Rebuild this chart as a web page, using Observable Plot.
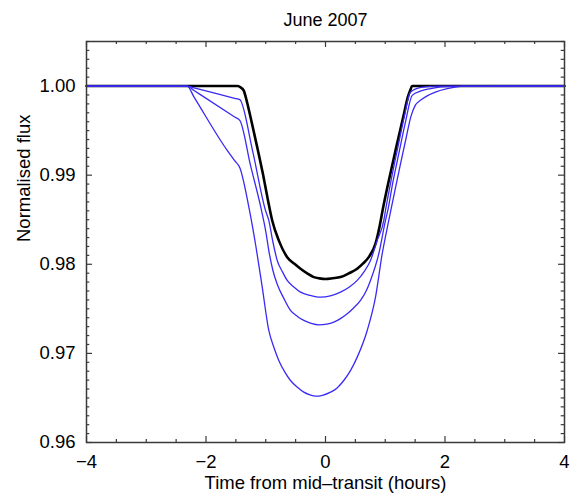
<!DOCTYPE html>
<html><head><meta charset="utf-8">
<script src="https://cdn.jsdelivr.net/npm/d3@7"></script>
<script src="https://cdn.jsdelivr.net/npm/@observablehq/plot@0.6"></script>
<style>body{margin:0;background:#fff} svg{display:block}</style>
</head><body><div id="chart"></div>
<script>
const title = "June 2007";
const xLabel = "Time from mid\u2013transit (hours)";
const yLabel = "Normalised flux";
const xTickLabels = [-4, -2, 0, 2, 4];
const yTickLabels = [0.96, 0.97, 0.98, 0.99, 1.00];

// black curve
const tBlack = [-4, -1.47, -1.42, -1.37, -1.31, -1.255, -1.143, -1.046, -0.962, -0.892, -0.782, -0.641, -0.52, -0.418, -0.30, -0.196, -0.10, 0.00, 0.12, 0.251, 0.39, 0.530, 0.63, 0.724, 0.837, 0.91, 0.96, 1.06, 1.172, 1.30, 1.38, 1.42, 1.45, 4];
const fBlack = [1.0, 1.0, 0.99985, 0.99952, 0.99810, 0.99652, 0.99315, 0.99009, 0.98717, 0.98492, 0.98268, 0.98080, 0.98005, 0.97950, 0.97895, 0.97856, 0.97842, 0.97835, 0.97843, 0.97856, 0.97898, 0.97950, 0.98010, 0.98080, 0.98231, 0.98440, 0.98620, 0.98941, 0.99278, 0.99650, 0.99880, 0.99955, 1.0, 1.0];

// blue curve 1 (shallowest)
const tBlue1 = [-4, -2.315, -2.2, -1.52, -1.434, -1.222, -1.004, -0.949, -0.88, -0.808, -0.72, -0.641, -0.53, -0.418, -0.25, -0.084, 0.08, 0.251, 0.40, 0.531, 0.65, 0.753, 0.865, 0.976, 1.004, 1.10, 1.2, 1.32, 1.42, 1.6, 1.9, 4];
const fBlue1 = [1.0, 1.0, 0.99980, 0.99862, 0.99847, 0.99278, 0.98604, 0.98492, 0.98250, 0.98043, 0.97915, 0.97819, 0.97745, 0.97687, 0.97650, 0.97631, 0.97645, 0.97687, 0.97745, 0.97819, 0.97920, 0.98043, 0.98268, 0.98492, 0.98604, 0.98950, 0.99278, 0.99660, 0.99930, 0.99985, 1.0, 1.0];

// blue curve 2
const tBlue2 = [-4, -2.315, -2.2, -1.52, -1.434, -1.255, -1.071, -1.00, -0.94, -0.88, -0.808, -0.70, -0.586, -0.47, -0.363, -0.24, -0.112, 0.02, 0.139, 0.25, 0.363, 0.47, 0.586, 0.68, 0.753, 0.892, 1.004, 1.043, 1.13, 1.227, 1.34, 1.451, 1.60, 1.757, 2.09, 4];
const fBlue2 = [1.0, 1.0, 0.99950, 0.99653, 0.99615, 0.99110, 0.98604, 0.98370, 0.98120, 0.97930, 0.97775, 0.97620, 0.97482, 0.97415, 0.97370, 0.97338, 0.97321, 0.97328, 0.97350, 0.97390, 0.97445, 0.97510, 0.97594, 0.97700, 0.97819, 0.98118, 0.98492, 0.98604, 0.98930, 0.99241, 0.99600, 0.99895, 0.99945, 0.99971, 0.99996, 1.0];

// blue curve 3 (deepest)
const tBlue3 = [-4, -2.315, -2.2, -1.645, -1.52, -1.434, -1.272, -1.16, -1.059, -0.949, -0.86, -0.782, -0.68, -0.586, -0.47, -0.363, -0.26, -0.167, -0.05, 0.084, 0.19, 0.306, 0.42, 0.531, 0.698, 0.837, 0.949, 1.059, 1.15, 1.25, 1.35, 1.43, 1.50, 1.60, 1.702, 1.85, 2.037, 2.315, 4];
const fBlue3 = [1.0, 1.0, 0.99876, 0.99278, 0.99163, 0.99084, 0.98604, 0.98180, 0.97743, 0.97257, 0.97060, 0.96921, 0.96790, 0.96696, 0.96620, 0.96565, 0.96535, 0.96520, 0.96530, 0.96565, 0.96610, 0.96696, 0.96810, 0.96958, 0.97257, 0.97631, 0.98118, 0.98492, 0.98790, 0.99110, 0.99420, 0.99660, 0.99780, 0.99845, 0.99890, 0.99935, 0.99971, 1.0, 1.0];

const W = 570, H = 493;
const M = {top: 41, right: 6, bottom: 51, left: 86};
const FW = W - M.left - M.right, FH = H - M.top - M.bottom;
const frameColor = "#3a3a3a";
const blue = "#3a2af5";
const FONT = "'Liberation Sans', Arial, Helvetica, sans-serif";

const xMinor = d3.range(-4, 4.0001, 0.5).filter(v => !xTickLabels.includes(v));
const yMinor = d3.range(960, 1006).map(v => v / 1000).filter(v => !yTickLabels.some(t => Math.abs(t - v) < 1e-9));
const fmtX = d => d < 0 ? "\u2212" + Math.abs(d) : String(d);
const pts = (t, f) => t.map((v, i) => ({t: v, f: f[i]}));

const chart = Plot.plot({
  width: W, height: H,
  marginTop: M.top, marginRight: M.right, marginBottom: M.bottom, marginLeft: M.left,
  x: {domain: [-4, 4]},
  y: {domain: [0.96, 1.005]},
  style: {fontFamily: FONT, background: "#fff", color: "#000", overflow: "visible"},
  marks: [
    Plot.axisX({ticks: xTickLabels, tickSize: 0, tickPadding: 12, fontSize: 18.5, tickFormat: fmtX, label: null}),
    Plot.axisY({ticks: yTickLabels, tickSize: 0, tickPadding: 11, fontSize: 18.5, tickFormat: d3.format(".2f"), label: null}),
    Plot.tickX(xTickLabels, {x: d => d, insetTop: FH - 6, stroke: frameColor, strokeWidth: 1.2}),
    Plot.tickX(xTickLabels, {x: d => d, insetBottom: FH - 6, stroke: frameColor, strokeWidth: 1.2}),
    Plot.tickX(xMinor, {x: d => d, insetTop: FH - 3, stroke: frameColor, strokeWidth: 1.2}),
    Plot.tickX(xMinor, {x: d => d, insetBottom: FH - 3, stroke: frameColor, strokeWidth: 1.2}),
    Plot.tickY(yTickLabels, {y: d => d, insetRight: FW - 6, stroke: frameColor, strokeWidth: 1.2}),
    Plot.tickY(yTickLabels, {y: d => d, insetLeft: FW - 6, stroke: frameColor, strokeWidth: 1.2}),
    Plot.tickY(yMinor, {y: d => d, insetRight: FW - 3.3, stroke: frameColor, strokeWidth: 1.2}),
    Plot.tickY(yMinor, {y: d => d, insetLeft: FW - 3.3, stroke: frameColor, strokeWidth: 1.2}),
    Plot.line(pts(tBlack, fBlack), {x: "t", y: "f", curve: "monotone-x", stroke: "#000", strokeWidth: 2.6, strokeLinejoin: "round"}),
    Plot.line(pts(tBlue1, fBlue1), {x: "t", y: "f", curve: "monotone-x", stroke: blue, strokeWidth: 1.3}),
    Plot.line(pts(tBlue2, fBlue2), {x: "t", y: "f", curve: "monotone-x", stroke: blue, strokeWidth: 1.3}),
    Plot.line(pts(tBlue3, fBlue3), {x: "t", y: "f", curve: "monotone-x", stroke: blue, strokeWidth: 1.3}),
    Plot.frame({stroke: frameColor, strokeWidth: 1.5}),
    Plot.text([title], {text: d => d, frameAnchor: "top", lineAnchor: "top", dy: -28, fontSize: 18}),
    Plot.text([xLabel], {text: d => d, frameAnchor: "bottom", lineAnchor: "bottom", dy: 46, fontSize: 18.5}),
    Plot.text([yLabel], {text: d => d, frameAnchor: "left", dx: -62, rotate: -90, fontSize: 18.5})
  ]
});
document.getElementById("chart").appendChild(chart);
</script>
</body></html>
